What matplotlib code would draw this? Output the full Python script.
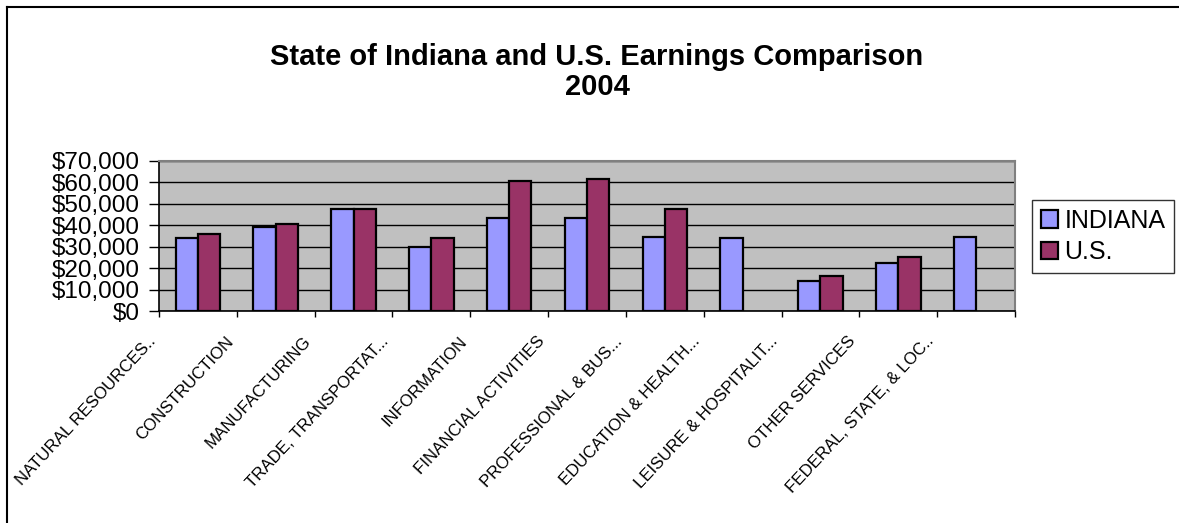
import matplotlib
matplotlib.use('Agg')
import matplotlib.pyplot as plt
import matplotlib.transforms as mtransforms
from matplotlib.ticker import FuncFormatter, MultipleLocator
from matplotlib.lines import Line2D
import numpy as np

categories = ["NATURAL RESOURCES..", "CONSTRUCTION", "MANUFACTURING",
              "TRADE, TRANSPORTAT...", "INFORMATION", "FINANCIAL ACTIVITIES",
              "PROFESSIONAL & BUS...", "EDUCATION & HEALTH...",
              "LEISURE & HOSPITALIT...", "OTHER SERVICES", "FEDERAL, STATE, & LOC.."]
indiana = [33900, 39300, 47400, 30000, 43200, 43200, 34500, 34100, 13800, 22400, 34400]
us = [35900, 40600, 47700, 34200, 60700, 61300, 47300, None, 16500, 25000, None]
series_names = ["INDIANA", "U.S."]
title = "State of Indiana and U.S. Earnings Comparison\n2004"

plt.rcParams['font.family'] = ['Liberation Sans', 'DejaVu Sans']

W, H = 1179, 523
fig = plt.figure(figsize=(W / 100, H / 100), dpi=100)
ax = fig.add_axes([159 / W, 1 - 311 / H, (1015 - 159) / W, (311 - 160.7) / H])
ax.set_facecolor('#C0C0C0')

x = np.arange(len(categories))
bw = 0.286
ax.bar(x - bw / 2, indiana, width=bw, color='#9999FF', edgecolor='black', linewidth=1.6,
       label=series_names[0], zorder=3)
ux = [xi for xi, v in zip(x, us) if v is not None]
uv = [v for v in us if v is not None]
ax.bar(np.array(ux) + bw / 2, uv, width=bw, color='#993366', edgecolor='black', linewidth=1.6,
       label=series_names[1], zorder=3)

ax.set_xlim(-0.5, len(categories) - 0.5)
ax.set_ylim(0, 70000)
ax.yaxis.set_major_locator(MultipleLocator(10000))
ax.yaxis.set_major_formatter(FuncFormatter(lambda v, p: "${:,.0f}".format(v)))
ax.grid(axis='y', color='black', linewidth=1, zorder=1)
ax.set_axisbelow(True)
ax.tick_params(axis='y', length=7, width=1, pad=7, labelsize=17.5, direction='out')

ax.set_xticks(x)
ax.set_xticks(np.arange(len(categories) + 1) - 0.5, minor=True)
ax.tick_params(axis='x', which='major', length=0, pad=20)
ax.tick_params(axis='x', which='minor', length=4, width=1, direction='out')
ax.set_xticklabels(categories, rotation=47, ha='right', va='center',
                   rotation_mode='anchor', fontsize=12.2)
offset = mtransforms.ScaledTranslation(-45 / 100, 0, fig.dpi_scale_trans)
for lab in ax.get_xticklabels():
    lab.set_transform(lab.get_transform() + offset)

for s in ['top', 'right']:
    ax.spines[s].set_color('#808080')
    ax.spines[s].set_linewidth(1.5)
for s in ['left', 'bottom']:
    ax.spines[s].set_color('black')
    ax.spines[s].set_linewidth(1.2)

fig.text(597 / W, 1 - 72 / H, title, ha='center', va='center', fontsize=21,
         fontweight='bold', linespacing=1.07)

leg = ax.legend(loc='upper left', bbox_to_anchor=(1032 / W, 1 - 200 / H),
                bbox_transform=fig.transFigure, fontsize=18, frameon=True,
                fancybox=False, handlelength=0.7, handleheight=0.7,
                handletextpad=0.25, borderpad=0.35, labelspacing=0.3, borderaxespad=0)
leg.get_frame().set_edgecolor('black')
leg.get_frame().set_linewidth(1)

fig.add_artist(Line2D([7 / W, 7 / W], [0, 1 - 7 / H], transform=fig.transFigure,
                      color='black', linewidth=1.5))
fig.add_artist(Line2D([7 / W, 1], [1 - 7 / H, 1 - 7 / H], transform=fig.transFigure,
                      color='black', linewidth=1.5))

fig.savefig('out.png', dpi=100)
